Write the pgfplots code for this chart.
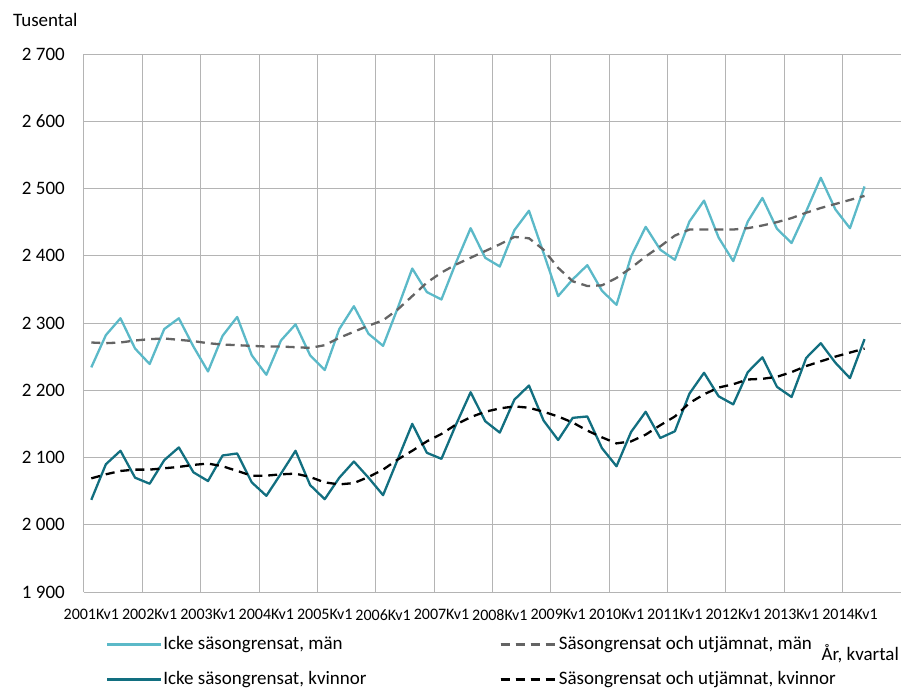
\documentclass[border=0pt]{standalone}
\usepackage{fontspec}
\setmainfont{Carlito}
\usepackage{pgfplots}
\pgfplotsset{compat=1.18}
\usepackage{pgfplotstable}

\definecolor{lightteal}{RGB}{91,185,200}
\definecolor{darkteal}{RGB}{18,111,128}
\definecolor{dashgray}{RGB}{100,100,100}
\definecolor{gridgray}{RGB}{180,180,180}

\pgfplotsset{
  solidleg/.style={legend image code/.code={\draw[##1] (0pt,0pt) -- (51pt,0pt); \path (0pt,0pt) -- (54pt,0pt);}},
  dashleg/.style={legend image code/.code={\draw[##1] (0pt,0pt) -- (43pt,0pt); \path (0pt,0pt) -- (56pt,0pt);}},
}

\pgfplotstableread{
i man mans kv kvs
0 2234 2271 2037 2069
1 2282 2270 2090 2075
2 2307 2271 2110 2080
3 2262 2274 2070 2082
4 2239 2276 2061 2082
5 2291 2277 2096 2084
6 2307 2275 2115 2086
7 2265 2273 2078 2089
8 2228 2270 2065 2091
9 2281 2268 2103 2087
10 2309 2267 2106 2080
11 2252 2266 2063 2073
12 2223 2265 2043 2073
13 2274 2265 2076 2075
14 2298 2264 2110 2076
15 2252 2263 2059 2071
16 2230 2267 2038 2063
17 2291 2278 2070 2060
18 2325 2287 2094 2062
19 2284 2296 2070 2071
20 2266 2304 2044 2082
21 2322 2320 2097 2097
22 2381 2340 2150 2110
23 2346 2360 2107 2124
24 2335 2375 2098 2135
25 2390 2387 2149 2149
26 2441 2397 2197 2160
27 2397 2407 2154 2168
28 2384 2417 2137 2173
29 2438 2428 2186 2176
30 2467 2426 2207 2174
31 2404 2409 2155 2168
32 2340 2382 2126 2161
33 2365 2362 2159 2152
34 2386 2355 2161 2140
35 2348 2356 2114 2130
36 2327 2367 2087 2121
37 2399 2382 2138 2124
38 2443 2399 2168 2134
39 2409 2414 2129 2148
40 2394 2430 2139 2161
41 2451 2439 2195 2181
42 2482 2439 2226 2194
43 2427 2439 2191 2204
44 2392 2439 2179 2209
45 2451 2441 2227 2216
46 2486 2445 2249 2217
47 2440 2450 2205 2220
48 2419 2456 2190 2227
49 2466 2464 2248 2236
50 2516 2471 2270 2243
51 2469 2477 2241 2250
52 2441 2483 2218 2256
53 2503 2489 2276 2262
}\data

\begin{document}
\begin{tikzpicture}
\path[use as bounding box] (-84pt,-99pt) rectangle (821pt,592pt);
\begin{axis}[
  at={(0pt,0pt)}, anchor=south west,
  scale only axis, width=817pt, height=538pt,
  xmin=-0.5, xmax=55.5, ymin=1900, ymax=2700,
  axis x line*=bottom, axis y line*=left,
  axis line style={draw=gridgray, line width=1pt, -},
  xtick={0,4,...,52},
  xticklabels={2001Kv1,2002Kv1,2003Kv1,2004Kv1,2005Kv1,2006Kv1,2007Kv1,2008Kv1,2009Kv1,2010Kv1,2011Kv1,2012Kv1,2013Kv1,2014Kv1},
  minor xtick={3.5,7.5,...,51.5},
  xminorgrids=true, ymajorgrids=true, xmajorgrids=false,
  ytick={1900,2000,...,2700},
  yticklabels={1 900,2 000,2 100,2 200,2 300,2 400,2 500,2 600,2 700},
  major tick length=0pt, minor tick length=0pt,
  grid style={draw=gridgray, line width=1pt},
  minor grid style={draw=gridgray, line width=1pt},
  xticklabel style={font=\fontsize{16}{19}\selectfont, anchor=north, inner sep=0pt, yshift=-17pt},
  yticklabel style={font=\fontsize{19}{22}\selectfont, anchor=east, inner sep=0pt, xshift=-19pt},
  ylabel={Tusental},
  ylabel style={rotate=-90, at={(axis description cs:-0.0869,1.0502)}, anchor=base west, inner sep=0pt, font=\fontsize{19}{22}\selectfont},
  xlabel={År, kvartal},
  xlabel style={at={(axis description cs:0.9976,-0.1264)}, anchor=base east, inner sep=0pt, font=\fontsize{19}{22}\selectfont},
  legend columns=2,
  legend cell align=left,
  legend style={at={(axis description cs:0.0269,-0.0790)}, anchor=north west,
    draw=none, fill=none, inner sep=0pt, outer sep=0pt,
    font=\fontsize{19}{22}\selectfont,
    nodes={inner sep=1pt, text height=14pt, text depth=4pt},
    row sep=15pt,
    /tikz/column 2/.style={column sep=132pt}},
]
\addplot[color=lightteal, line width=2.3pt, line join=round, solidleg]
  table[x=i, y=man] {\data};
\addlegendentry{Icke säsongrensat, män}
\addplot[color=dashgray, line width=2.3pt, dash pattern=on 9pt off 6pt, dashleg]
  table[x=i, y=mans] {\data};
\addlegendentry{Säsongrensat och utjämnat, män}
\addplot[color=darkteal, line width=2.3pt, line join=round, solidleg]
  table[x=i, y=kv] {\data};
\addlegendentry{Icke säsongrensat, kvinnor}
\addplot[color=black, line width=2.3pt, dash pattern=on 9pt off 6pt, dashleg]
  table[x=i, y=kvs] {\data};
\addlegendentry{Säsongrensat och utjämnat, kvinnor}
\end{axis}
\end{tikzpicture}
\end{document}
